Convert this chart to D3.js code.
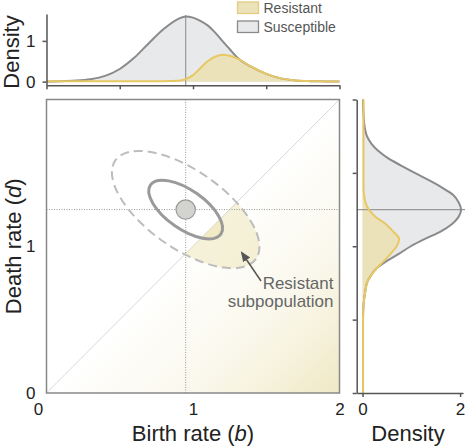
<!DOCTYPE html>
<html>
<head>
<meta charset="utf-8">
<script src="https://cdn.jsdelivr.net/npm/d3@7"></script>
<style>
  body { margin: 0; background: #fff; }
  svg { display: block; font-family: "Liberation Sans", Helvetica, Arial, sans-serif; }
  .tick text { fill: #222; font-size: 17px; }
</style>
</head>
<body>
<svg id="svg" width="467" height="447"></svg>
<script>
// top marginal: density along birth rate
const topB = [0, 0.1, 0.2, 0.3, 0.4, 0.5, 0.6, 0.7, 0.8, 0.9, 0.95, 1.0, 1.05, 1.1, 1.15, 1.2, 1.25, 1.3, 1.4, 1.5, 1.6, 1.7, 1.8, 1.9, 2.0]
const topSus = [0.005, 0.01, 0.025, 0.06, 0.14, 0.31, 0.59, 0.95, 1.29, 1.54, 1.60, 1.57, 1.49, 1.38, 1.21, 1.00, 0.80, 0.60, 0.36, 0.19, 0.08, 0.03, 0.012, 0.006, 0.004]
const topRes = [0.012, 0.012, 0.012, 0.012, 0.012, 0.012, 0.012, 0.012, 0.012, 0.02, 0.06, 0.16, 0.33, 0.50, 0.61, 0.66, 0.635, 0.57, 0.36, 0.19, 0.08, 0.03, 0.012, 0.006, 0.004]

// right marginal: density along death rate
const rightD = [0, 0.1, 0.2, 0.3, 0.4, 0.5, 0.6, 0.7, 0.75, 0.8, 0.85, 0.9, 0.95, 1.0, 1.05, 1.1, 1.15, 1.2, 1.25, 1.3, 1.35, 1.4, 1.45, 1.5, 1.55, 1.6, 1.65, 1.7, 1.75, 1.8, 1.9, 2.0]
const rightSus = [0.01, 0.01, 0.01, 0.01, 0.01, 0.01, 0.02, 0.06, 0.09, 0.17, 0.29, 0.50, 0.75, 0.99, 1.28, 1.60, 1.83, 1.97, 2.02, 1.97, 1.86, 1.63, 1.36, 1.07, 0.79, 0.52, 0.32, 0.18, 0.09, 0.05, 0.02, 0.01]
const rightRes = [0.01, 0.01, 0.01, 0.01, 0.01, 0.01, 0.02, 0.06, 0.09, 0.17, 0.29, 0.44, 0.58, 0.70, 0.75, 0.63, 0.48, 0.27, 0.13, 0.06, 0.03, 0.02, 0.02, 0.02, 0.02, 0.02, 0.02, 0.02, 0.02, 0.02, 0.02, 0.02]

// population summary: mean (b, d), 1 sd and 2 sd contours (semi-axes in rate units, tilt in degrees)
const meanB = 0.95
const meanD = 1.25
const contours = [
  { a: 0.293, b: 0.133, dashed: false },
  { a: 0.586, b: 0.266, dashed: true }
]
const tiltDeg = 35

const rateTicks = [0, 1, 2]
const rateMinor = [0, 0.5, 1, 1.5, 2]
const topDensTicks = [0, 1]
const rightDensTicks = [0, 2]
const legendItems = ['Resistant', 'Susceptible']

const gray = '#8a8a8a'
const grayFill = '#e8e9ea'
const gold = '#e8c865'
const goldFill = '#ebe2ba'

let svg = d3.select('#svg')

let x = d3.scaleLinear().domain([0, 2]).range([46.5, 339.5])
let y = d3.scaleLinear().domain([0, 2]).range([393, 99.5])
let yTop = d3.scaleLinear().domain([-0.09, 1.66]).range([85.3, 14])
let xRight = d3.scaleLinear().domain([-0.12, 2.06]).range([356.7, 463])

let defs = svg.append('defs')

let grad = defs.append('linearGradient')
  .attr('id', 'corner')
  .attr('gradientUnits', 'userSpaceOnUse')
  .attr('x1', x(1)).attr('y1', y(1))
  .attr('x2', x(2)).attr('y2', y(0))
grad.append('stop').attr('offset', 0).attr('stop-color', '#ffffff')
grad.append('stop').attr('offset', 0.5).attr('stop-color', '#faf8ec')
grad.append('stop').attr('offset', 1).attr('stop-color', '#f0e9c6')

defs.append('clipPath').attr('id', 'below')
  .append('path')
  .attr('d', 'M' + x(0) + ',' + y(0) + 'L' + x(2) + ',' + y(2) + 'L' + x(2) + ',' + y(0) + 'Z')

defs.append('marker')
  .attr('id', 'head')
  .attr('viewBox', '0 0 10 10')
  .attr('refX', 8).attr('refY', 5)
  .attr('markerWidth', 7).attr('markerHeight', 7)
  .attr('orient', 'auto')
  .append('path').attr('d', 'M0,1L10,5L0,9Z').attr('fill', '#555')

// ---------- main panel ----------
let main = svg.append('g')

main.append('path')
  .attr('d', 'M' + x(0) + ',' + y(0) + 'L' + x(2) + ',' + y(2) + 'L' + x(2) + ',' + y(0) + 'Z')
  .attr('fill', 'url(#corner)')

main.append('line')
  .attr('x1', x(0)).attr('y1', y(0)).attr('x2', x(2)).attr('y2', y(2))
  .attr('stroke', '#d9d9d9').attr('stroke-width', 1)

let cx = x(meanB)
let cy = y(meanD)
let px = x(1) - x(0)

// resistant part of each contour = below the b = d line
main.append('g').attr('clip-path', 'url(#below)')
  .selectAll('ellipse')
  .data(contours)
  .enter()
  .append('ellipse')
  .attr('transform', 'translate(' + cx + ',' + cy + ') rotate(' + tiltDeg + ')')
  .attr('rx', d => d.a * px)
  .attr('ry', d => d.b * px)
  .attr('fill', '#eadfa8')
  .attr('fill-opacity', 0.42)

main.append('line')
  .attr('x1', x(0)).attr('x2', x(2)).attr('y1', cy).attr('y2', cy)
  .attr('stroke', '#999').attr('stroke-dasharray', '1,1.5')
main.append('line')
  .attr('x1', cx).attr('x2', cx).attr('y1', y(0)).attr('y2', y(2))
  .attr('stroke', '#999').attr('stroke-dasharray', '1,1.5')

main.selectAll('.contour')
  .data(contours)
  .enter()
  .append('ellipse')
  .attr('class', 'contour')
  .attr('transform', 'translate(' + cx + ',' + cy + ') rotate(' + tiltDeg + ')')
  .attr('rx', d => d.a * px)
  .attr('ry', d => d.b * px)
  .attr('fill', 'none')
  .attr('stroke', d => d.dashed ? '#bdbdbd' : '#9a9a9a')
  .attr('stroke-width', d => d.dashed ? 2 : 3)
  .attr('stroke-dasharray', d => d.dashed ? '9,5' : null)

main.append('circle')
  .attr('cx', cx).attr('cy', cy).attr('r', 9.7)
  .attr('fill', '#d3d3cf').attr('stroke', '#999').attr('stroke-width', 1.2)

main.append('line')
  .attr('x1', 261).attr('y1', 281).attr('x2', 242).attr('y2', 253)
  .attr('stroke', '#555').attr('stroke-width', 1.5)
  .attr('marker-end', 'url(#head)')

let note = main.append('text')
  .attr('text-anchor', 'end')
  .attr('fill', '#666')
  .style('font-size', '17px')
note.append('tspan').attr('x', 333.5).attr('y', 288.5).text('Resistant')
note.append('tspan').attr('x', 333.5).attr('y', 306.5).text('subpopulation')

main.append('rect')
  .attr('x', x(0)).attr('y', y(2))
  .attr('width', x(2) - x(0)).attr('height', y(0) - y(2))
  .attr('fill', 'none').attr('stroke', '#888').attr('stroke-width', 1.5)

let mainX = main.append('g')
  .attr('transform', 'translate(0,' + y(0) + ')')
  .call(d3.axisBottom(x).tickValues(rateTicks).tickFormat(d3.format('d')).tickSize(0).tickPadding(10))
mainX.select('.domain').remove()
mainX.selectAll('.tick text').filter(d => d === 0).attr('dx', '-8.5')

let mainY = main.append('g')
  .attr('transform', 'translate(' + x(0) + ',0)')
  .call(d3.axisLeft(y).tickValues(rateTicks).tickFormat(d3.format('d')).tickSize(0).tickPadding(11))
mainY.select('.domain').remove()
mainY.selectAll('.tick').filter(d => d === 2).remove()

svg.append('text')
  .attr('x', x(1)).attr('y', 440.5)
  .attr('text-anchor', 'middle').attr('fill', '#222')
  .style('font-size', '22px')
  .html('Birth rate (<tspan font-style="italic">b</tspan>)')

svg.append('text')
  .attr('transform', 'translate(21,' + y(1) + ') rotate(-90)')
  .attr('text-anchor', 'middle').attr('fill', '#222')
  .style('font-size', '22px')
  .html('Death rate (<tspan font-style="italic">d</tspan>)')

// ---------- top marginal ----------
let topPanel = svg.append('g')
let topSusData = topB.map((b, i) => ({ b: b, v: topSus[i] }))
let topResData = topB.map((b, i) => ({ b: b, v: topRes[i] }))

let topArea = d3.area().curve(d3.curveMonotoneX)
  .x(d => x(d.b)).y0(yTop(0)).y1(d => yTop(d.v))
let topLine = d3.line().curve(d3.curveMonotoneX)
  .x(d => x(d.b)).y(d => yTop(d.v))

topPanel.append('path').attr('d', topArea(topSusData)).attr('fill', grayFill)
topPanel.append('path').attr('d', topArea(topResData)).attr('fill', goldFill)
topPanel.append('line')
  .attr('x1', cx).attr('x2', cx).attr('y1', yTop(-0.09)).attr('y2', 15)
  .attr('stroke', '#999').attr('stroke-width', 1.2)
topPanel.append('path').attr('d', topLine(topSusData))
  .attr('fill', 'none').attr('stroke', gray).attr('stroke-width', 2)
topPanel.append('path').attr('d', topLine(topResData))
  .attr('fill', 'none').attr('stroke', gold).attr('stroke-width', 2)

topPanel.append('g')
  .attr('transform', 'translate(0,' + yTop(-0.09) + ')')
  .call(d3.axisBottom(x).tickValues(rateMinor).tickFormat('').tickSize(4).tickSizeOuter(0))
topPanel.append('g')
  .attr('transform', 'translate(' + x(0) + ',0)')
  .call(d3.axisLeft(yTop).tickValues(topDensTicks).tickFormat(d3.format('d')).tickSize(4).tickSizeOuter(0).tickPadding(7))

svg.append('text')
  .attr('transform', 'translate(19,' + 52 + ') rotate(-90)')
  .attr('text-anchor', 'middle').attr('fill', '#222')
  .style('font-size', '22px')
  .text('Density')

// ---------- right marginal ----------
let rightPanel = svg.append('g')
let rightSusData = rightD.map((d, i) => ({ d: d, v: rightSus[i] }))
let rightResData = rightD.map((d, i) => ({ d: d, v: rightRes[i] }))

let rightArea = d3.area().curve(d3.curveMonotoneY)
  .y(d => y(d.d)).x0(xRight(0)).x1(d => xRight(d.v))
let rightLine = d3.line().curve(d3.curveMonotoneY)
  .y(d => y(d.d)).x(d => xRight(d.v))

rightPanel.append('path').attr('d', rightArea(rightSusData)).attr('fill', grayFill)
rightPanel.append('path').attr('d', rightArea(rightResData)).attr('fill', goldFill)
rightPanel.append('line')
  .attr('x1', xRight(-0.12)).attr('x2', 465).attr('y1', cy).attr('y2', cy)
  .attr('stroke', '#999').attr('stroke-width', 1.2)
rightPanel.append('path').attr('d', rightLine(rightSusData))
  .attr('fill', 'none').attr('stroke', gray).attr('stroke-width', 2)
rightPanel.append('path').attr('d', rightLine(rightResData))
  .attr('fill', 'none').attr('stroke', gold).attr('stroke-width', 2)

rightPanel.append('g')
  .attr('transform', 'translate(' + xRight(-0.12) + ',0)')
  .call(d3.axisLeft(y).tickValues(rateMinor).tickFormat('').tickSize(4).tickSizeOuter(0))
rightPanel.append('g')
  .attr('transform', 'translate(0,' + y(0) + ')')
  .call(d3.axisBottom(xRight).tickValues(rightDensTicks).tickFormat(d3.format('d')).tickSize(4).tickSizeOuter(0).tickPadding(6))

svg.append('text')
  .attr('x', 408).attr('y', 441)
  .attr('text-anchor', 'middle').attr('fill', '#222')
  .style('font-size', '22px')
  .text('Density')

svg.selectAll('.domain, .tick line').attr('stroke', '#555').attr('stroke-width', 1.5)

// ---------- legend ----------
let legend = svg.append('g')
  .selectAll('g')
  .data(legendItems)
  .enter()
  .append('g')
  .attr('transform', (d, i) => 'translate(237.5,' + (2 + i * 19) + ')')
legend.append('rect')
  .attr('width', 21).attr('height', 11.5)
  .attr('fill', d => d === 'Resistant' ? goldFill : grayFill)
  .attr('stroke', d => d === 'Resistant' ? '#e3cd7e' : gray)
  .attr('stroke-width', 1.3)
legend.append('text')
  .attr('x', 26).attr('y', 11)
  .attr('fill', '#555')
  .style('font-size', '14px')
  .text(d => d)
</script>
</body>
</html>
